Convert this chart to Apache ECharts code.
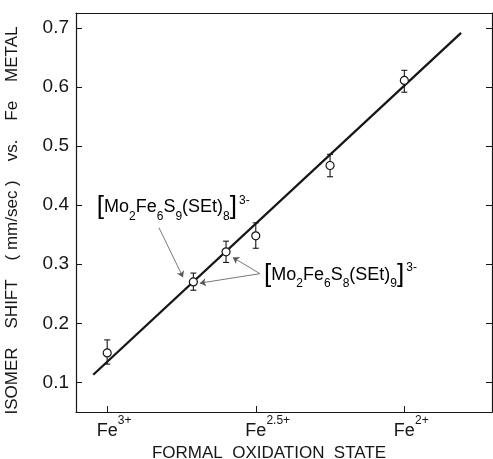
<!DOCTYPE html>
<html>
<head>
<meta charset="utf-8">
<script src="https://cdn.jsdelivr.net/npm/echarts@6/dist/echarts.min.js"></script>
<style>
  html, body { margin: 0; padding: 0; background: #fff; }
  #chart { width: 493px; height: 459px; }
</style>
</head>
<body>
<div id="chart"></div>
<script>
// formal oxidation state of Fe (x) vs isomer shift in mm/sec (y)
const oxState = [3.0, 2.71, 2.60, 2.5, 2.25, 2.0];
const isomerShift = [0.150, 0.270, 0.321, 0.348, 0.467, 0.611];
const errLow = [0.131, 0.256, 0.303, 0.327, 0.448, 0.591];
const errHigh = [0.172, 0.285, 0.339, 0.370, 0.486, 0.628];

// ends of the fitted straight line
const fitX = [3.047, 1.809];
const fitY = [0.113, 0.6915];

const yTicks = [0.1, 0.2, 0.3, 0.4, 0.5, 0.6, 0.7];
const xTicks = [3, 2.5, 2];
const xTickSup = ["3+", "2.5+", "2+"];

// annotation arrows (data coords) and label anchors
const arrowFrom = [[2.826, 0.362], [2.486, 0.284], [2.486, 0.284]];
const arrowTo = [[2.745, 0.278], [2.688, 0.268], [2.577, 0.3115]];
const arrowCurve = [-0.35, -0.2, 0.2];
const labelAt = [[3.035, 0.398], [2.472, 0.284]];
const labelSub = [["2", "6", "9", "8"], ["2", "6", "8", "9"]];

const INK = "#161616";
const FONT = "Liberation Sans";

const chart = echarts.init(document.getElementById("chart"));

const formulaRich = {
  b: { fontSize: 26, lineHeight: 30, verticalAlign: "top", fontFamily: FONT, color: INK },
  t: { fontSize: 18, lineHeight: 22, padding: [4, 0, 0, 0], verticalAlign: "top", fontFamily: FONT, color: INK },
  s: { fontSize: 12, lineHeight: 14, padding: [16, 0, 0, 0], verticalAlign: "top", fontFamily: FONT, color: INK },
  p: { fontSize: 12, lineHeight: 14, padding: [0, 0, 0, 2], verticalAlign: "top", fontFamily: FONT, color: INK },
};

function formula(sub) {
  return "{b|[}{t|Mo}{s|" + sub[0] + "}{t|Fe}{s|" + sub[1] + "}{t|S}{s|" + sub[2] +
    "}{t|(SEt)}{s|" + sub[3] + "}{b|]}{p|3-}";
}

const supStyle = { fontSize: 12, lineHeight: 14, verticalAlign: "top", fontFamily: FONT, color: INK };

chart.setOption({
  animation: false,
  grid: { left: 76, right: 1, top: 13, bottom: 47, outerBoundsMode: "none" },
  xAxis: [
    {
      type: "value",
      inverse: true,
      min: 1.705,
      max: 3.105,
      name: "FORMAL  OXIDATION  STATE",
      nameLocation: "middle",
      nameGap: 32,
      nameTextStyle: { fontFamily: FONT, fontSize: 17, color: INK, padding: [0, 30, 0, 0] },
      axisLine: { lineStyle: { color: INK, width: 1.2 } },
      axisTick: { inside: true, length: 6, customValues: xTicks, lineStyle: { color: INK } },
      splitLine: { show: false },
      axisLabel: {
        customValues: xTicks,
        margin: 3,
        verticalAlign: "top",
        formatter: (v) => {
          const i = xTicks.indexOf(v);
          const w = i === 1 ? "w" : "n";
          return "{" + w + "|}{m|Fe}{" + w + "s|" + xTickSup[i] + "}";
        },
        rich: {
          m: { fontSize: 18, lineHeight: 22, padding: [7, 0, 0, 0], verticalAlign: "top", fontFamily: FONT, color: INK },
          n: { width: 14 },
          w: { width: 24 },
          ns: Object.assign({ width: 14 }, supStyle),
          ws: Object.assign({ width: 24 }, supStyle),
        },
      },
    },
    {
      type: "value",
      position: "top",
      inverse: true,
      min: 1.705,
      max: 3.105,
      axisLine: { lineStyle: { color: INK, width: 1.2 } },
      axisTick: { show: false },
      axisLabel: { show: false },
      splitLine: { show: false },
    },
  ],
  yAxis: [
    {
      type: "value",
      min: 0.05,
      max: 0.725,
      name: "ISOMER    SHIFT    ( mm/sec )    vs.    Fe    METAL",
      nameLocation: "middle",
      nameGap: 55,
      nameTextStyle: { fontFamily: FONT, fontSize: 17, color: INK, padding: [0, 16, 0, 0] },
      axisLine: { show: true, lineStyle: { color: INK, width: 1.2 } },
      axisTick: { inside: true, length: 6, customValues: yTicks, lineStyle: { color: INK } },
      splitLine: { show: false },
      axisLabel: {
        customValues: yTicks,
        margin: 7,
        fontFamily: FONT,
        fontSize: 19,
        color: INK,
        formatter: (v) => v.toFixed(1),
      },
    },
    {
      type: "value",
      position: "right",
      min: 0.05,
      max: 0.725,
      axisLine: { show: true, lineStyle: { color: INK, width: 1.2 } },
      axisTick: { inside: true, length: 6, customValues: yTicks, lineStyle: { color: INK } },
      axisLabel: { show: false },
      splitLine: { show: false },
    },
  ],
  series: [
    {
      type: "line",
      data: fitX.map((x, i) => [x, fitY[i]]),
      showSymbol: false,
      lineStyle: { color: INK, width: 2.3 },
      z: 2,
    },
    {
      type: "custom",
      data: oxState.map((x, i) => [x, errLow[i], errHigh[i]]),
      renderItem: (params, api) => {
        const lo = api.coord([api.value(0), api.value(1)]);
        const hi = api.coord([api.value(0), api.value(2)]);
        const cap = 3;
        const st = { stroke: INK, lineWidth: 1.1 };
        return {
          type: "group",
          children: [
            { type: "line", shape: { x1: lo[0], y1: lo[1], x2: hi[0], y2: hi[1] }, style: st },
            { type: "line", shape: { x1: lo[0] - cap, y1: lo[1], x2: lo[0] + cap, y2: lo[1] }, style: st },
            { type: "line", shape: { x1: hi[0] - cap, y1: hi[1], x2: hi[0] + cap, y2: hi[1] }, style: st },
          ],
        };
      },
      z: 3,
    },
    {
      type: "scatter",
      data: oxState.map((x, i) => [x, isomerShift[i]]),
      symbol: "circle",
      symbolSize: 8,
      itemStyle: { color: "#fff", borderColor: INK, borderWidth: 1.2, opacity: 1 },
      z: 4,
      markLine: {
        silent: true,
        symbol: ["none", "arrow"],
        symbolSize: 6,
        label: { show: false },
        lineStyle: { color: "#555", width: 0.8, type: "solid" },
        data: arrowFrom.map((f, i) => [
          { coord: f, lineStyle: { curveness: arrowCurve[i] } },
          { coord: arrowTo[i] },
        ]),
      },
    },
  ],
});

chart.setOption({
  graphic: labelAt.map((p, i) => {
    const px = chart.convertToPixel({ gridIndex: 0 }, p);
    return {
      type: "text",
      x: px[0],
      y: px[1] + 3,
      style: {
        text: formula(labelSub[i]),
        rich: formulaRich,
        align: "left",
        verticalAlign: "middle",
      },
    };
  }),
});
</script>
</body>
</html>
